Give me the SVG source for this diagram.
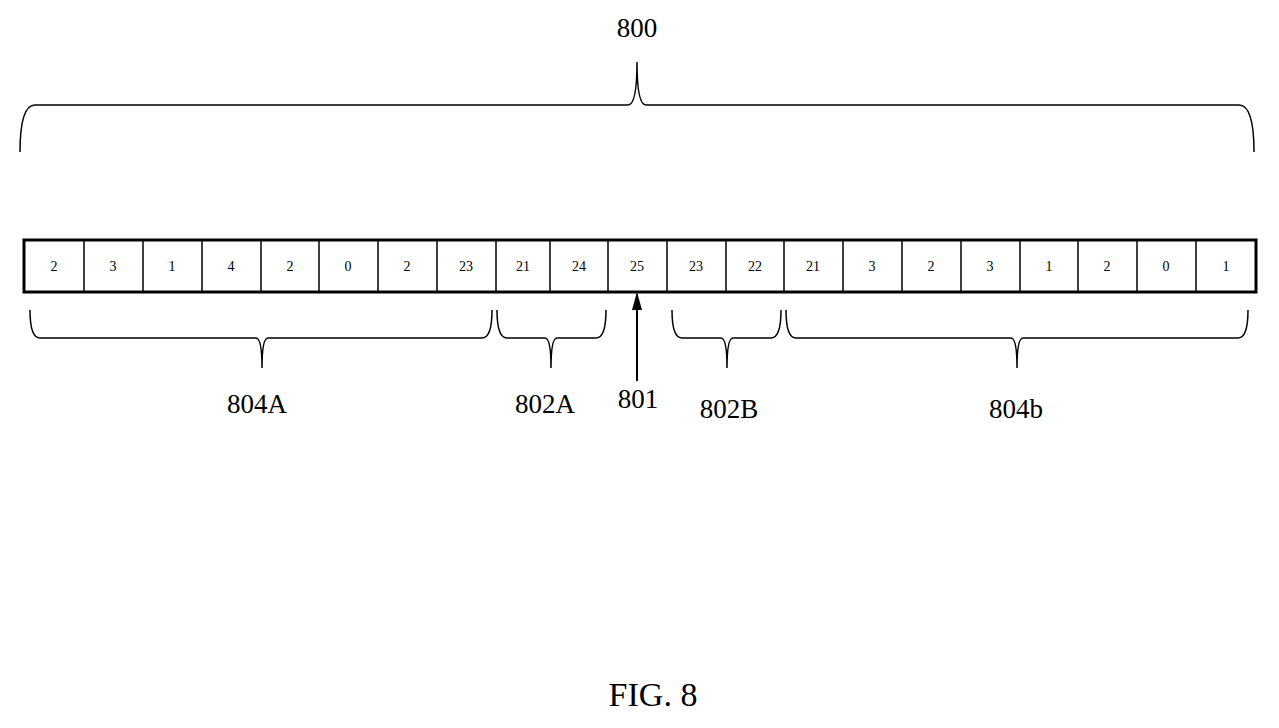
<svg xmlns="http://www.w3.org/2000/svg" width="1279" height="728" viewBox="0 0 1279 728">
<style>
.c{fill:#fff;stroke:#000;stroke-width:1.5}
.n{font-family:"Liberation Serif",serif;font-size:14px;text-anchor:middle}
.l{font-family:"Liberation Serif",serif;font-size:27px;text-anchor:middle}
.b{fill:none;stroke:#000;stroke-width:1.5}
</style>
<defs><marker id="ah" markerWidth="10" markerHeight="10" refX="5" refY="1" orient="auto-start-reverse" markerUnits="userSpaceOnUse" viewBox="0 0 10 10"><path d="M0,16 L5,0 L10,16Z" transform="scale(0.6)translate(3,0)"/></marker></defs>
<rect width="1279" height="728" fill="#fff"/>
<g id="cells">
<rect x="24" y="240" width="1232" height="52" fill="none" stroke="#000" stroke-width="3"/>
<path d="M84,240V292M143,240V292M202,240V292M261,240V292M319,240V292M378,240V292M437,240V292M496,240V292M550,240V292M608,240V292M667,240V292M726,240V292M784,240V292M843,240V292M902,240V292M961,240V292M1020,240V292M1078,240V292M1137,240V292M1196,240V292" stroke="#000" stroke-width="1.5"/>
<g class="n">
<text x="54" y="271">2</text><text x="113" y="271">3</text><text x="172" y="271">1</text><text x="231" y="271">4</text><text x="290" y="271">2</text><text x="348" y="271">0</text><text x="407" y="271">2</text><text x="466" y="271">23</text><text x="523" y="271">21</text><text x="579" y="271">24</text><text x="637" y="271">25</text><text x="696" y="271">23</text><text x="755" y="271">22</text><text x="813" y="271">21</text><text x="872" y="271">3</text><text x="931" y="271">2</text><text x="990" y="271">3</text><text x="1049" y="271">1</text><text x="1107" y="271">2</text><text x="1166" y="271">0</text><text x="1226" y="271">1</text>
</g>
</g>
<g id="braces">
<path class="b" d="M20,152 Q20,105 35,105 L628,105 Q637,105 637,62 Q637,105 646,105 L1239,105 Q1254,105 1254,152"/>
<path class="b" d="M30,310 Q30,338 40,338 L256,338 Q262,338 262,368 Q262,338 268,338 L482,338 Q492,338 492,310"/>
<path class="b" d="M497,310 Q497,338 507,338 L545,338 Q551,338 551,368 Q551,338 557,338 L596,338 Q606,338 606,310"/>
<path class="b" d="M672,310 Q672,338 682,338 L721,338 Q727,338 727,368 Q727,338 733,338 L771,338 Q781,338 781,310"/>
<path class="b" d="M786,310 Q786,338 796,338 L1011,338 Q1017,338 1017,368 Q1017,338 1023,338 L1238,338 Q1248,338 1248,310"/>
</g>
<g id="connectors">
<line x1="637" y1="381" x2="637" y2="294" stroke="#000" stroke-width="2"/>
<path d="M637,292 L632,310 L642,310Z"/>
</g>
<g id="labels" class="l">
<text x="637" y="37">800</text>
<text x="257" y="413">804A</text>
<text x="545" y="413">802A</text>
<text x="638" y="408">801</text>
<text x="729" y="418">802B</text>
<text x="1016" y="418">804b</text>
<text x="653" y="706" style="font-size:34px">FIG. 8</text>
</g>
</svg>
